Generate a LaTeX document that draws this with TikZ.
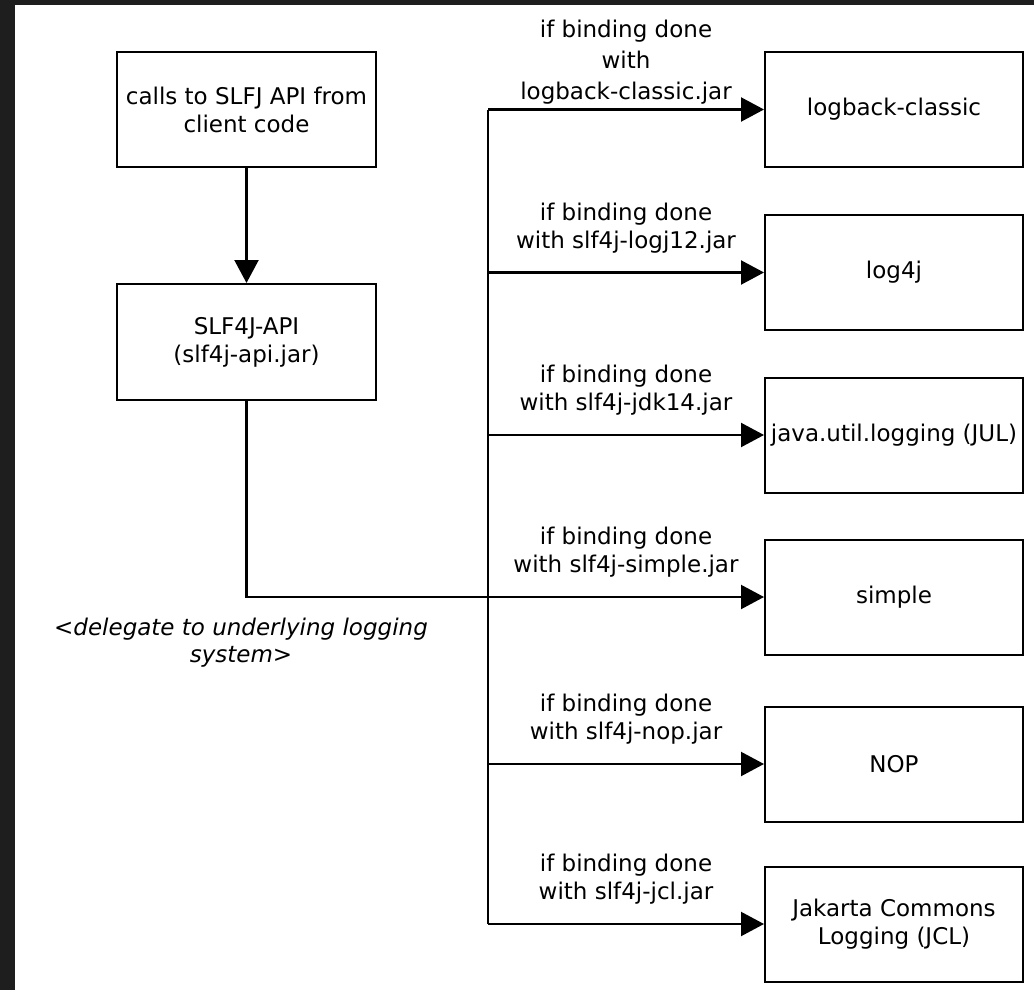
\documentclass[tikz,border=0pt]{standalone}
\usepackage{fontspec}
\setmainfont{DejaVu Sans}
\usetikzlibrary{arrows.meta}
\definecolor{framedark}{HTML}{1E1E1E}
\tikzset{
  box/.style={draw=black, line width=2pt, minimum width=258pt, minimum height=115pt,
    inner sep=0pt, align=center, font=\fontsize{23}{28}\selectfont},
  lbl/.style={align=center, inner sep=0pt, anchor=south, font=\fontsize{23}{28}\selectfont},
  conn/.style={line width=2.2pt},
  arr/.style={conn, -{Triangle[length=23pt,width=24pt]}},
}
\begin{document}
\begin{tikzpicture}[x=1pt,y=-1pt]
  % background and frame
  \fill[framedark] (0,0) rectangle (1034,990);
  \fill[white] (15,5) rectangle (1034,990);
  \useasboundingbox (0,0) rectangle (1034,990);

  % left boxes
  \node[box, minimum width=259pt] (client) at (246.5,109.5) {calls to SLFJ API from\\client code};
  \node[box, minimum width=259pt, minimum height=116pt] (api) at (246.5,342) {SLF4J-API\\(slf4j-api.jar)};

  % right boxes
  \node[box] (logback) at (894,109.5) {logback-classic};
  \node[box] (log4j) at (894,272.5) {log4j};
  \node[box] (jul) at (894,435) {java.util.logging (JUL)};
  \node[box] (simple) at (894,597) {simple};
  \node[box] (nop) at (894,764) {NOP};
  \node[box] (jcl) at (894,924) {Jakarta Commons\\Logging (JCL)};

  % bus coordinates
  \coordinate (j1) at (488,109.5);
  \coordinate (j2) at (488,272.5);
  \coordinate (j3) at (488,435);
  \coordinate (j5) at (488,764);
  \coordinate (j6) at (488,924);

  % connectors
  \draw[arr] (client) -- (api);
  \draw[arr] (api.south) |- (simple.west);
  \draw[conn] (j1) -- (j6);
  \draw[arr] (j1) -- (logback);
  \draw[arr] (j2) -- (log4j);
  \draw[arr] (j3) -- (jul);
  \draw[arr] (j5) -- (nop);
  \draw[arr] (j6) -- (jcl);

  % labels
  \node[lbl, font=\fontsize{23}{31}\selectfont] (l1) at (626,104) {if binding done\\with\\logback-classic.jar};
  \node[lbl] (l2) at (626,253) {if binding done\\with slf4j-logj12.jar};
  \node[lbl] (l3) at (626,415.5) {if binding done\\with slf4j-jdk14.jar};
  \node[lbl] (l4) at (626,577.5) {if binding done\\with slf4j-simple.jar};
  \node[lbl] (l5) at (626,744.5) {if binding done\\with slf4j-nop.jar};
  \node[lbl] (l6) at (626,904.5) {if binding done\\with slf4j-jcl.jar};

  \node[align=center, inner sep=0pt, anchor=north, font=\fontsize{23}{27}\selectfont\itshape] (deleg)
    at (241,617.5) {<delegate to underlying logging\\system>};
\end{tikzpicture}
\end{document}
